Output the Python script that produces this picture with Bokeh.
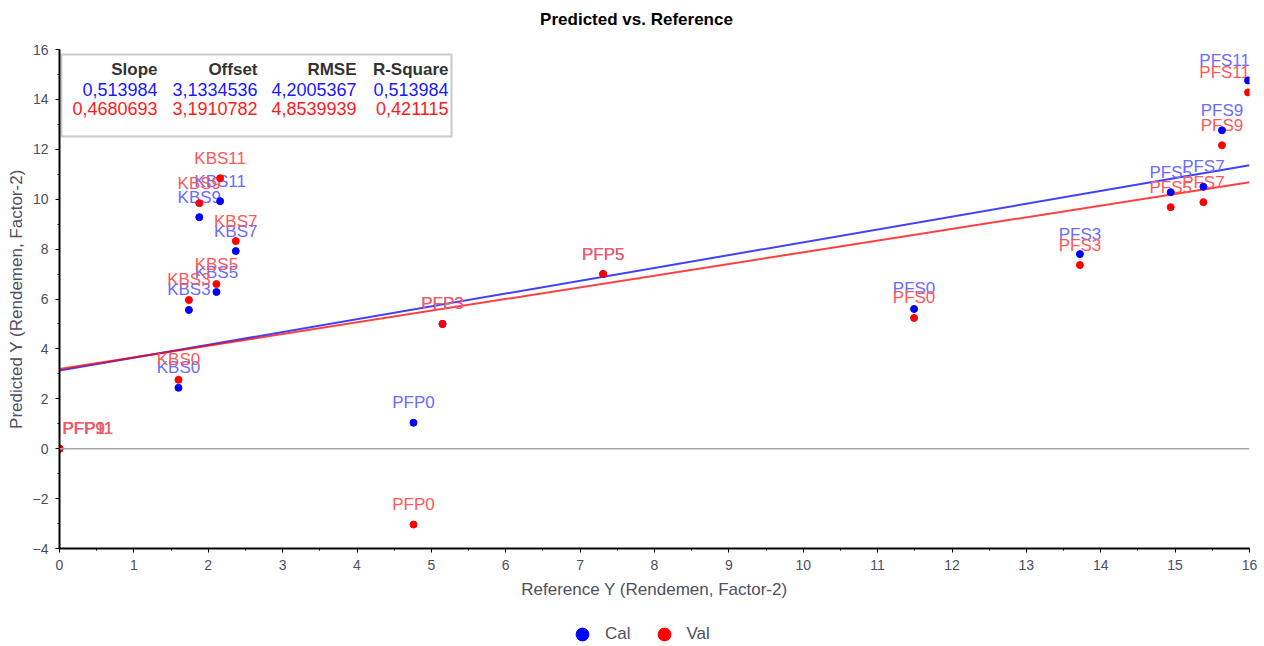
from bokeh.plotting import figure
from bokeh.layouts import column
from bokeh.models import (Range1d, Span, BoxAnnotation, Label, Legend, LegendItem,
                          SingleIntervalTicker, ColumnDataSource)
from bokeh.core.properties import value
from bokeh.embed import file_html
from bokeh.resources import INLINE

# Samples and their reference values
samples = ["KBS0", "KBS3", "KBS5", "KBS7", "KBS9", "KBS11",
           "PFS0", "PFS3", "PFS5", "PFS7", "PFS9", "PFS11",
           "PFP0", "PFP3", "PFP5", "PFP9", "PFP11"]
reference_y = [1.60, 1.74, 2.11, 2.37, 1.88, 2.16,
               11.49, 13.72, 14.94, 15.38, 15.63, 15.98,
               4.76, 5.15, 7.31, 0.0, 0.0]
# Predicted values, calibration and validation
predicted_cal = [2.44, 5.56, 6.28, 7.92, 9.28, 9.92,
                 5.60, 7.80, 10.28, 10.50, 12.76, 14.76,
                 1.04, 5.00, 7.00, 0.0, 0.0]
predicted_val = [2.76, 5.96, 6.60, 8.32, 9.84, 10.84,
                 5.24, 7.36, 9.68, 9.88, 12.16, 14.28,
                 -3.04, 5.00, 7.00, 0.0, 0.0]

# Regression statistics
stat_headers = ["Slope", "Offset", "RMSE", "R-Square"]
cal_stats = ["0,513984", "3,1334536", "4,2005367", "0,513984"]
val_stats = ["0,4680693", "3,1910782", "4,8539939", "0,421115"]
series_names = ["Cal", "Val"]
chart_title = "Predicted vs. Reference"

CAL = "#0000ff"
VAL = "#ff0000"
CAL_TXT = "#6b6bff"
VAL_TXT = "#ff5858"
GREY_TXT = "#4e5060"
FONT = "Liberation Sans"
X_MIN, X_MAX = 0, 16
W = 1264


def strip(height):
    """Plain figure without axes, used for the title and the legend rows."""
    f = figure(width=W, height=height, x_range=Range1d(0, 1), y_range=Range1d(0, 1),
               output_backend="svg", toolbar_location=None,
               x_axis_location=None, y_axis_location=None,
               min_border_left=0, min_border_right=0, min_border_top=0, min_border_bottom=0)
    f.outline_line_color = None
    f.xgrid.visible = False
    f.ygrid.visible = False
    return f


# title row (its frame lines up with the chart frame in the column)
head = strip(30)
head.add_layout(Label(x=577, y=11, x_units="screen", y_units="screen", text=chart_title,
                      text_align="center", text_baseline="middle", text_font=FONT,
                      text_font_size="17px", text_font_style="bold", text_color="black"))

p = figure(width=W, height=590, x_range=Range1d(X_MIN, X_MAX), y_range=Range1d(-4, 16),
           output_backend="svg", toolbar_location=None,
           min_border_left=59, min_border_right=15, min_border_top=19, min_border_bottom=72)
p.outline_line_color = None
p.xgrid.visible = False
p.ygrid.visible = False
p.background_fill_color = "white"

for ax, step in ((p.xaxis[0], 1), (p.yaxis[0], 2)):
    ax.ticker = SingleIntervalTicker(interval=step, num_minor_ticks=2)
    ax.axis_line_color = "black"
    ax.axis_line_width = 2
    ax.major_tick_line_color = "black"
    ax.minor_tick_line_color = "black"
    ax.major_tick_in = 0
    ax.major_tick_out = 4
    ax.minor_tick_in = 0
    ax.minor_tick_out = 2
    ax.major_label_text_font = FONT
    ax.major_label_text_font_size = "14px"
    ax.major_label_text_color = "#4a4f62"
    ax.major_label_standoff = 7
    ax.axis_label_text_font = FONT
    ax.axis_label_text_font_size = "17px"
    ax.axis_label_text_font_style = "normal"
    ax.axis_label_text_color = GREY_TXT
p.xaxis.axis_label = "Reference Y (Rendemen, Factor-2)"
p.xaxis.axis_label_standoff = 7
p.yaxis.axis_label = "Predicted Y (Rendemen, Factor-2)"
p.yaxis.axis_label_standoff = 4

# zero line
p.add_layout(Span(location=0, dimension="width", line_color="#a8a8a8", line_width=1.5))


def parse(s):
    return float(s.replace(",", "."))


# regression lines from the stated slope / offset
for stats, col in ((cal_stats, CAL), (val_stats, VAL)):
    slope, offset = parse(stats[0]), parse(stats[1])
    xs = [X_MIN, X_MAX]
    p.line(xs, [offset + slope * x for x in xs], line_color=col, line_width=2, alpha=0.75)


def label_source(ys):
    align = ["left" if x <= 0.3 else ("right" if x >= 15.8 else "center") for x in reference_y]
    xoff = [3 if a == "left" else (2 if a == "right" else 0) for a in align]
    return ColumnDataSource(dict(x=reference_y, y=ys, name=samples, align=align, xoff=xoff))


for ys, col in ((predicted_cal, CAL_TXT), (predicted_val, VAL_TXT)):
    p.text("x", "y", text="name", source=label_source(ys), text_align="align",
           x_offset="xoff", y_offset=-20, text_baseline="middle",
           text_font=value(FONT), text_font_size="17px", text_color=col)

p.scatter(reference_y, predicted_cal, size=7, color=CAL)
p.scatter(reference_y, predicted_val, size=7, color=VAL)

# statistics table
p.add_layout(BoxAnnotation(left=2, right=392, top=494, bottom=412,
                           left_units="screen", right_units="screen",
                           top_units="screen", bottom_units="screen",
                           fill_color="white", fill_alpha=1,
                           line_color="#4d4d4d", line_width=2, level="annotation"))
col_right = [98, 198, 297, 389]
for row_y, texts, color, style, size in ((479, stat_headers, "#333333", "bold", "17px"),
                                         (459, cal_stats, "#1a1aff", "normal", "18px"),
                                         (440, val_stats, "#ff1a1a", "normal", "18px")):
    for cx, t in zip(col_right, texts):
        p.add_layout(Label(x=cx, y=row_y, x_units="screen", y_units="screen", text=t,
                           text_align="right", text_baseline="middle",
                           text_font=FONT, text_font_size=size,
                           text_font_style=style, text_color=color))

# legend row; the key markers sit outside its range
lg = strip(26)
keys = [lg.scatter([-1], [-1], size=13, color=c) for c in (CAL, VAL)]
legend = Legend(items=[LegendItem(label=n, renderers=[k]) for n, k in zip(series_names, keys)],
                location=(507, -4), orientation="horizontal",
                border_line_color=None, background_fill_alpha=0,
                padding=0, margin=0, spacing=17, label_standoff=7,
                glyph_width=32, glyph_height=32, label_height=16,
                label_text_font=FONT, label_text_font_size="17px",
                label_text_color=GREY_TXT)
lg.add_layout(legend, "center")

open("out.html", "w").write(file_html(column(head, p, lg, spacing=0), INLINE))
